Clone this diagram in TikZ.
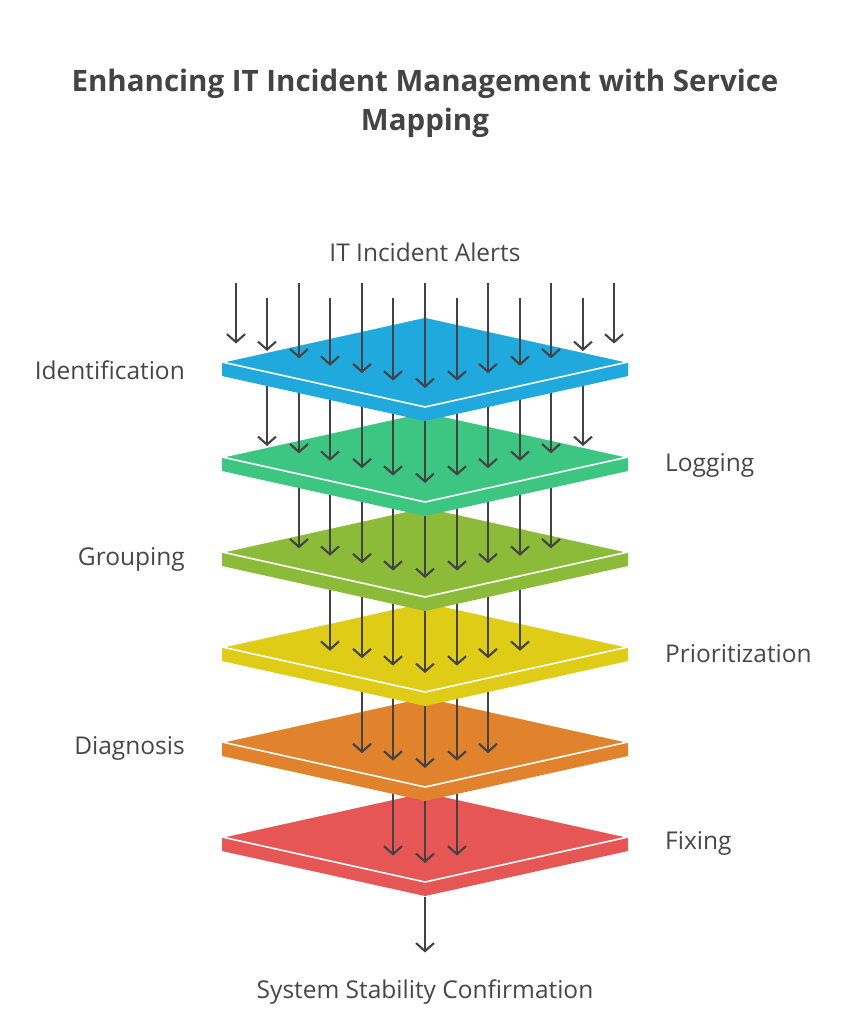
\documentclass[tikz,border=0pt]{standalone}
\usepackage{fontspec}
\setmainfont{Open Sans}
\usetikzlibrary{arrows.meta}
\usetikzlibrary{positioning}
\definecolor{arrowgray}{HTML}{434343}
\definecolor{textgray}{HTML}{474747}
\definecolor{titlegray}{HTML}{444444}
\definecolor{identblue}{HTML}{1FA9DC}
\definecolor{loggreen}{HTML}{3CC682}
\definecolor{groupolive}{HTML}{8CBB3A}
\definecolor{prioyellow}{HTML}{DECC16}
\definecolor{diagorange}{HTML}{E1822D}
\definecolor{fixred}{HTML}{E65654}

\begin{document}
\begin{tikzpicture}[x=1pt,y=1pt,yscale=-1]
  \useasboundingbox (0,0) rectangle (850,1024);
  \tikzstyle{arrow} = [line width=2.1pt,draw=arrowgray,-{Straight Barb[length=8pt,width=18pt,line width=2.1pt]}]
  \tikzstyle{label} = [text=textgray,font=\fontsize{24.5}{28}\selectfont,inner sep=0pt]
  %Title
  \node (title) [text=titlegray,font=\fontsize{29.5}{39}\selectfont\bfseries,align=center] at (425,103)
    {Enhancing IT Incident Management with Service\\Mapping};
  %Draw the plates from the bottom up, each with the arrows that land on it
  \foreach \lvl/\col in {5/fixred,4/diagorange,3/prioyellow,2/groupolive,1/loggreen,0/identblue}{
    \pgfmathsetmacro{\cy}{362+95*\lvl}
    \pgfmathtruncatemacro{\n}{6-\lvl}
    % side of the plate
    \fill[\col] (222,\cy) -- (222,\cy+14) -- (425,\cy+59) -- (628,\cy+14) -- (628,\cy) -- cycle;
    % top face
    \filldraw[fill=\col,draw=white,line width=1.6pt,line join=round]
      (425,\cy-45) -- (628,\cy) -- (425,\cy+45) -- (222,\cy) -- cycle;
    % arrows onto this plate
    \foreach \j in {-\n,...,\n}{
      \pgfmathsetmacro{\xa}{425+round(31.5*\j)}
      \pgfmathsetmacro{\ya}{\cy+26-0.235*abs(31.5*\j)}
      \pgfmathsetmacro{\ys}{\lvl==0 ? (mod(abs(\j),2)==0 ? 283 : 298) : \cy-95}
      \draw[arrow] (\xa,\ys) -- (\xa,\ya);
    }
  }
  % Label the layers
  \node (alerts) [label] at (425,252) {IT Incident Alerts};
  \node (ident) [label,anchor=east] at (185,370) {Identification};
  \node (logging) [label,anchor=west] at (665,465) {Logging};
  \node (grouping) [label,anchor=east] at (185,559) {Grouping};
  \node (prio) [label,anchor=west] at (665,654) {Prioritization};
  \node (diag) [label,anchor=east] at (185,748) {Diagnosis};
  \node (fixing) [label,anchor=west] at (665,843) {Fixing};
  \node (stable) [label] at (425,992) {System Stability Confirmation};
  % Output arrow
  \coordinate (redbottom) at (425,897);
  \draw[arrow] (redbottom) -- ([yshift=-27pt]stable.north);
\end{tikzpicture}
\end{document}
